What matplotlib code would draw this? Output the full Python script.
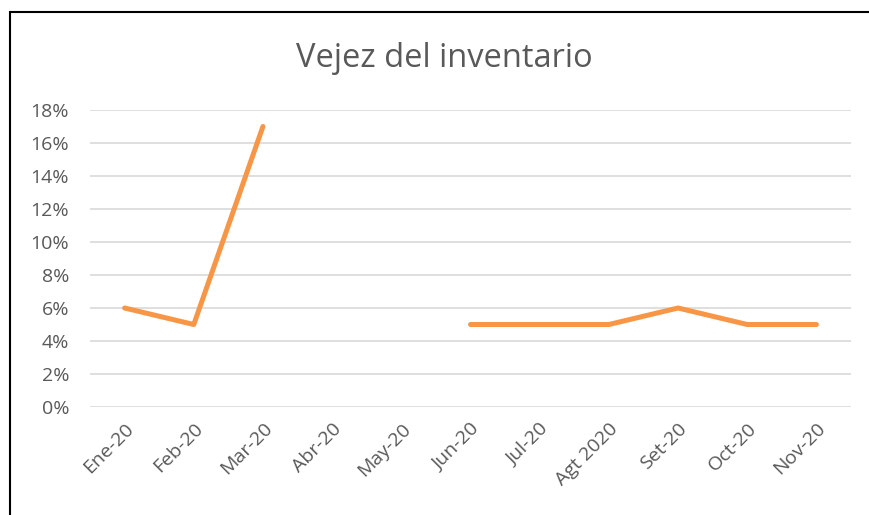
import numpy as np
import matplotlib
matplotlib.use("Agg")
import matplotlib.pyplot as plt
from matplotlib.patches import Rectangle

# Data
meses = ['Ene-20', 'Feb-20', 'Mar-20', 'Abr-20', 'May-20', 'Jun-20',
         'Jul-20', 'Agt 2020', 'Set-20', 'Oct-20', 'Nov-20']
vejez = [0.06, 0.05, 0.17, np.nan, np.nan, 0.05, 0.05, 0.05, 0.06, 0.05, 0.05]
y_ticks = [0.00, 0.02, 0.04, 0.06, 0.08, 0.10, 0.12, 0.14, 0.16, 0.18]

plt.rcParams['font.family'] = ['Open Sans', 'DejaVu Sans']

fig = plt.figure(figsize=(8.7, 5.15), dpi=100)
ax = fig.add_axes([90 / 870, 1 - 407 / 515, 761 / 870, 297 / 515])

x = np.arange(len(meses))
ax.plot(x, vejez, color='#f79646', linewidth=3.6,
        solid_capstyle='round', solid_joinstyle='round')

ax.set_xlim(-0.5, len(meses) - 0.5)
ax.set_ylim(0, 0.18)
ax.set_yticks(y_ticks)
ax.set_yticklabels([f'{int(round(v * 100))}%' for v in y_ticks])
ax.set_xticks(x)
ax.set_xticklabels(meses, rotation=45, ha='right', rotation_mode='anchor')

ax.grid(axis='y', color='#d9d9d9', linewidth=1.2)
ax.set_axisbelow(True)
for s in ax.spines.values():
    s.set_visible(False)
ax.tick_params(axis='both', length=0, labelsize=14, colors='#595959')
ax.tick_params(axis='y', pad=15)
ax.tick_params(axis='x', pad=9)

fig.text(444 / 870, 1 - 67 / 515, 'Vejez del inventario',
         ha='center', va='baseline', fontsize=23.5, color='#595959')

# outer frame (partially cut off in the screenshot)
fig.patches.append(Rectangle((10 / 870, -0.1), 1.1, 1 - 12 / 515 + 0.1,
                             transform=fig.transFigure, fill=False,
                             edgecolor='black', linewidth=1.5, clip_on=False))

fig.savefig('out.png', dpi=100, facecolor='white')
